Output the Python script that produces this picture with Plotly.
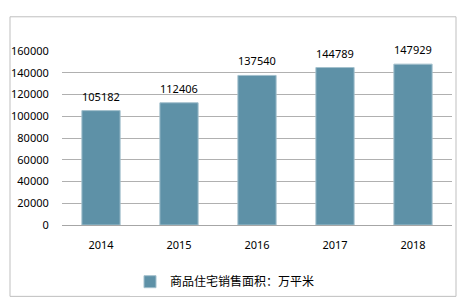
import plotly.graph_objects as go

years = ["2014", "2015", "2016", "2017", "2018"]
values = [105182, 112406, 137540, 144789, 147929]
series_name = "商品住宅销售面积：万平米"
y_ticks = [0, 20000, 40000, 60000, 80000, 100000, 120000, 140000, 160000]

W, H = 462, 306
L, R, T, B = 62, 10, 51, 77
pw, ph = W - L - R, H - T - B

def px_x(x):
    return (x - L) / pw

def px_y(y):
    return (H - B - y) / ph

font = dict(family="Noto Sans, Noto Sans CJK SC, sans-serif", size=11, color="#000000")
lfont = dict(family="Noto Sans CJK SC, Noto Sans, sans-serif", size=12, color="#000000")

fig = go.Figure()
fig.add_trace(go.Bar(
    x=years, y=values, name=series_name,
    marker=dict(color="#5E91A7", line=dict(color="#A3C0CD", width=1)),
    width=0.49,
))

# annotation x on a category axis is the category's index
for i, yv in enumerate(values):
    fig.add_annotation(x=i, y=yv, text=str(yv), showarrow=False,
                       xref="x", yref="y", yanchor="bottom", yshift=5, font=font)

fig.add_shape(type="rect", xref="paper", yref="paper",
              x0=px_x(10), x1=px_x(456), y0=px_y(302), y1=px_y(16),
              line=dict(color="#BFBFBF", width=1), layer="below")

fig.update_layout(
    width=W, height=H,
    margin=dict(l=L, r=R, t=T, b=B),
    paper_bgcolor="white", plot_bgcolor="white",
    font=font,
    showlegend=True,
    legend=dict(orientation="h", x=px_x(130), xanchor="left", y=px_y(287), yanchor="middle",
                font=lfont),
)
fig.update_xaxes(type="category", showline=True, linecolor="#A6A6A6", linewidth=1,
                 ticks="outside", ticklen=10, tickcolor="rgba(0,0,0,0)",
                 showgrid=False, tickfont=font)
fig.update_yaxes(range=[0, 160000], tickvals=y_ticks, ticktext=[str(v) for v in y_ticks],
                 showgrid=True, gridcolor="#B0B0B0", gridwidth=1, showline=False,
                 zeroline=False, ticks="outside", ticklen=10, tickcolor="rgba(0,0,0,0)",
                 tickfont=font)

fig.write_html("out.html")
